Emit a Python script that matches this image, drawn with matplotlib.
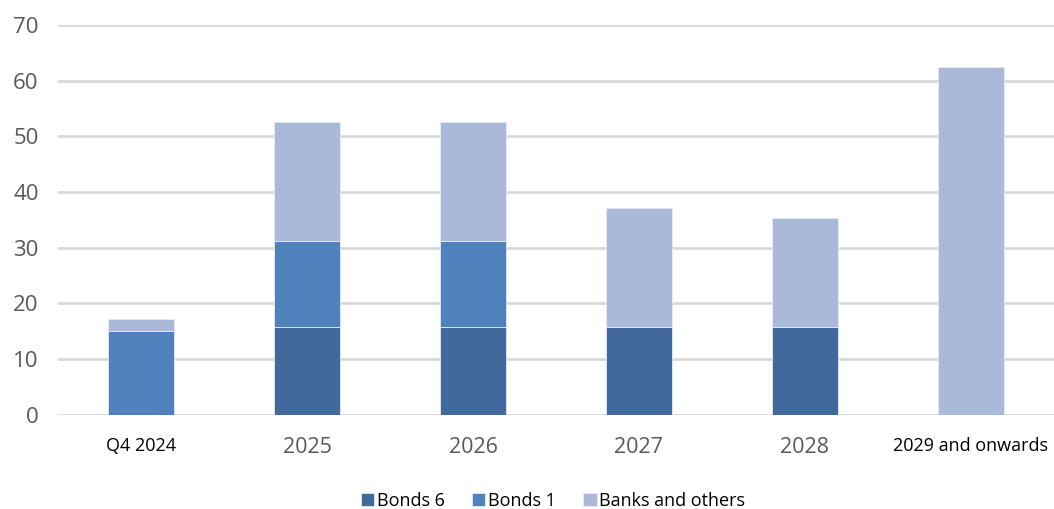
import matplotlib
matplotlib.use('Agg')
import matplotlib.pyplot as plt
import numpy as np

plt.rcParams['font.family'] = ['Open Sans', 'DejaVu Sans']

# Data
categories = ['Q4 2024', '2025', '2026', '2027', '2028', '2029 and onwards']
bonds6 = [0, 15.8, 15.8, 15.8, 15.8, 0]
bonds1 = [15.1, 15.4, 15.4, 0, 0, 0]
banks = [2.1, 21.4, 21.4, 21.4, 19.5, 62.5]

colors = ['#41699b', '#4f81bd', '#aab9d7']

fig = plt.figure(figsize=(10.54, 5.09), dpi=100)
ax = fig.add_axes([0.055, 0.185, 0.945, 0.766])

x = np.arange(len(categories))
w = 0.4
b1_bottom = np.array(bonds6)
bk_bottom = b1_bottom + np.array(bonds1)
ax.bar(x, bonds6, w, color=colors[0], edgecolor='#e6ebf3', linewidth=0.6, label='Bonds 6', zorder=3)
ax.bar(x, bonds1, w, bottom=b1_bottom, color=colors[1], edgecolor='#e6ebf3', linewidth=0.6, label='Bonds 1', zorder=3)
ax.bar(x, banks, w, bottom=bk_bottom, color=colors[2], edgecolor='#e6ebf3', linewidth=0.6, label='Banks and others', zorder=3)

ax.set_xlim(-0.5, len(categories) - 0.5)
ax.set_ylim(0, 70)
ax.set_yticks(range(0, 71, 10))
ax.yaxis.grid(True, color='#d9d9d9', linewidth=2, zorder=0)
for s in ax.spines.values():
    s.set_visible(False)
ax.tick_params(axis='y', length=0, pad=14, labelsize=16, labelcolor='#595959')
ax.tick_params(axis='x', length=0, pad=16)

ax.set_xticks(x)
ax.set_xticklabels(categories)
for lbl in ax.get_xticklabels():
    if lbl.get_text().isdigit():
        lbl.set_fontsize(15.5)
        lbl.set_color('#595959')
    else:
        lbl.set_fontsize(13)
        lbl.set_color('black')

ax.legend(loc='lower center', bbox_to_anchor=(0.497, -0.285), ncol=3, frameon=False,
          fontsize=13, handlelength=0.75, handleheight=0.75, handletextpad=0.15, columnspacing=1.5)

fig.savefig('out.png', dpi=100)
